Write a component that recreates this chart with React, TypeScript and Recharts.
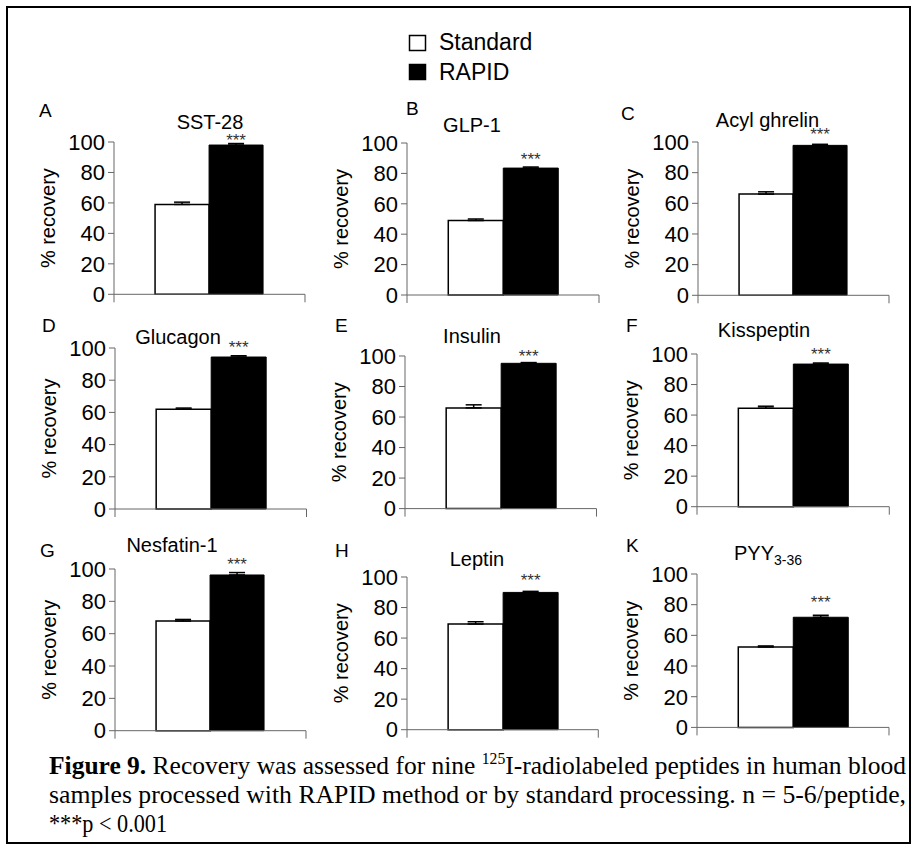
import React from "react"
import { Bar, BarChart, ErrorBar, LabelList, XAxis, YAxis } from "recharts"

// nine peptides, recovery in % (mean and upper SEM)
const panelLetters = ["A", "B", "C", "D", "E", "F", "G", "H", "K"]
const peptides = ["SST-28", "GLP-1", "Acyl ghrelin", "Glucagon", "Insulin", "Kisspeptin", "Nesfatin-1", "Leptin", "PYY"]
const peptideSub = ["", "", "", "", "", "", "", "", "3-36"]
const standardMean = [59, 49, 66, 62, 66, 64.5, 67.8, 69.2, 52.4]
const standardSem = [1.5, 1, 1.5, 0.7, 2, 1.3, 1, 1.5, 0.7]
const rapidMean = [98, 83.5, 97.8, 94.4, 95.2, 93.4, 96.3, 89.9, 71.8]
const rapidSem = [1, 0.7, 0.7, 0.8, 0.5, 0.7, 1.5, 0.7, 1.3]
const significance = ["***", "***", "***", "***", "***", "***", "***", "***", "***"]
const yTicks = [0, 20, 40, 60, 80, 100]

const SANS = "'Liberation Sans', Arial, sans-serif"
const SERIF = "'Liberation Serif', 'Times New Roman', serif"
const AXIS = "#666"

// plot box of each panel: y-axis x, x-axis end, y of 100 and of 0
const layout = [
  { ax: 114, xe: 305, top: 141.7, bot: 294, lift: -1, letter: [39, 110], title: [210, 121.7] },
  { ax: 407, xe: 599, top: 143, bot: 295, lift: 3, letter: [406, 108], title: [472, 125] },
  { ax: 698, xe: 889, top: 141.7, bot: 295, lift: 5, letter: [621, 113], title: [767.5, 119.5] },
  { ax: 115, xe: 306.5, top: 348.3, bot: 509.3, lift: 4, letter: [42, 325], title: [178, 336.7] },
  { ax: 405, xe: 596.5, top: 355.7, bot: 508.3, lift: 1, letter: [335, 325], title: [472, 336] },
  { ax: 696.7, xe: 889, top: 354.3, bot: 507, lift: 4, letter: [626, 325], title: [764, 330] },
  { ax: 115, xe: 306, top: 569, bot: 730.7, lift: 5, letter: [40, 550], title: [172, 545] },
  { ax: 406.7, xe: 598, top: 577.3, bot: 730, lift: 6, letter: [335, 550], title: [477, 559.3] },
  { ax: 697, xe: 889, top: 574, bot: 727.4, lift: 9, letter: [626, 545], title: [768, 553.3] },
]

const LEFT = 110
const TOP = 20
const RIGHT = 10
const BOTTOM = 20

// x axis: small downward marks at both ends of the category band
function EdgeTicks(props: any) {
  const { x, y, plotW } = props
  return (
    <g stroke={AXIS} strokeWidth={1}>
      <line x1={x - plotW / 2} y1={y} x2={x - plotW / 2} y2={y + 8} />
      <line x1={x + plotW / 2} y1={y} x2={x + plotW / 2} y2={y + 8} />
    </g>
  )
}

function Panel({ i }: { i: number }) {
  const g = layout[i]
  const plotW = g.xe - g.ax
  const plotH = g.bot - g.top
  const data = [
    {
      name: peptides[i],
      standard: standardMean[i],
      standardErr: [0, standardSem[i]],
      rapid: rapidMean[i],
      rapidErr: [0, rapidSem[i]],
      stars: significance[i],
    },
  ]
  return (
    <div style={{ position: "absolute", left: g.ax - LEFT, top: g.top - TOP }}>
      <BarChart
        width={LEFT + plotW + RIGHT}
        height={TOP + plotH + BOTTOM}
        data={data}
        margin={{ top: TOP, right: RIGHT, bottom: 0, left: 0 }}
        barCategoryGap="21.5%"
        barGap={0}
      >
        <XAxis
          dataKey="name"
          height={BOTTOM}
          axisLine={{ stroke: AXIS, strokeWidth: 1 }}
          tickLine={false}
          tickSize={0}
          tickMargin={0}
          tick={<EdgeTicks plotW={plotW} />}
        />
        <YAxis
          width={LEFT}
          domain={[0, 100]}
          ticks={yTicks}
          interval={0}
          axisLine={{ stroke: AXIS, strokeWidth: 1 }}
          tickLine={{ stroke: AXIS, strokeWidth: 1 }}
          tickSize={6}
          tickMargin={3}
          tick={{ fill: "#000", fontSize: 22, fontFamily: SANS }}
          label={{
            value: "% recovery",
            angle: -90,
            position: "insideLeft",
            offset: 44,
            style: { textAnchor: "middle", fill: "#000", fontSize: 20, fontFamily: SANS },
          }}
        />
        <Bar dataKey="standard" fill="#fff" stroke="#000" strokeWidth={1.5} isAnimationActive={false}>
          <ErrorBar dataKey="standardErr" width={8} stroke="#000" strokeWidth={1.5} direction="y" />
        </Bar>
        <Bar dataKey="rapid" fill="#000" stroke="#000" strokeWidth={1} isAnimationActive={false}>
          <ErrorBar dataKey="rapidErr" width={8} stroke="#000" strokeWidth={1.5} direction="y" />
          <LabelList dataKey="stars" position="top" offset={g.lift} fill="#333" fontSize={17} fontFamily={SANS} />
        </Bar>
      </BarChart>
    </div>
  )
}

export default function App() {
  return (
    <div style={{ position: "absolute", left: 0, top: 0, width: 916, height: 849, background: "#fff", fontFamily: SANS }}>
      {peptides.map((_, i) => (
        <Panel key={i} i={i} />
      ))}
      <svg width={916} height={849} style={{ position: "absolute", left: 0, top: 0, pointerEvents: "none" }}>
        <rect x={7} y={7} width={903} height={836} fill="none" stroke="#000" strokeWidth={2} />

        {/* legend */}
        <rect x={409.5} y={35.5} width={16} height={15} fill="#fff" stroke="#000" strokeWidth={1.5} />
        <text x={439} y={42} fontSize={23} fontFamily={SANS} dominantBaseline="central">Standard</text>
        <rect x={409.5} y={64.5} width={16} height={15} fill="#000" stroke="#000" strokeWidth={1.5} />
        <text x={439} y={72} fontSize={23} fontFamily={SANS} dominantBaseline="central">RAPID</text>

        {/* panel letters and peptide names */}
        {layout.map((g, i) => (
          <g key={i} fontFamily={SANS} fill="#000">
            <text x={g.letter[0]} y={g.letter[1]} fontSize={19} dominantBaseline="central">{panelLetters[i]}</text>
            <text x={g.title[0]} y={g.title[1]} fontSize={20} textAnchor="middle" dominantBaseline="central">
              {peptides[i]}
              {peptideSub[i] && (
                <tspan fontSize={14} dy={7}>{peptideSub[i]}</tspan>
              )}
            </text>
          </g>
        ))}

        {/* caption */}
        <g fontFamily={SERIF} fontSize={26} fill="#000">
          <text x={49} y={774} textLength={857} lengthAdjust="spacingAndGlyphs">
            <tspan fontWeight="bold">Figure 9.</tspan> Recovery was assessed for nine{" "}
            <tspan fontSize={16} dy={-10}>125</tspan>
            <tspan dy={10}>I-radiolabeled peptides in human blood</tspan>
          </text>
          <text x={49} y={803} textLength={857} lengthAdjust="spacingAndGlyphs">
            samples processed with RAPID method or by standard processing. n = 5-6/peptide,
          </text>
          <text x={49} y={832} textLength={118} lengthAdjust="spacingAndGlyphs">
            ***p &lt; 0.001
          </text>
        </g>
      </svg>
    </div>
  )
}
